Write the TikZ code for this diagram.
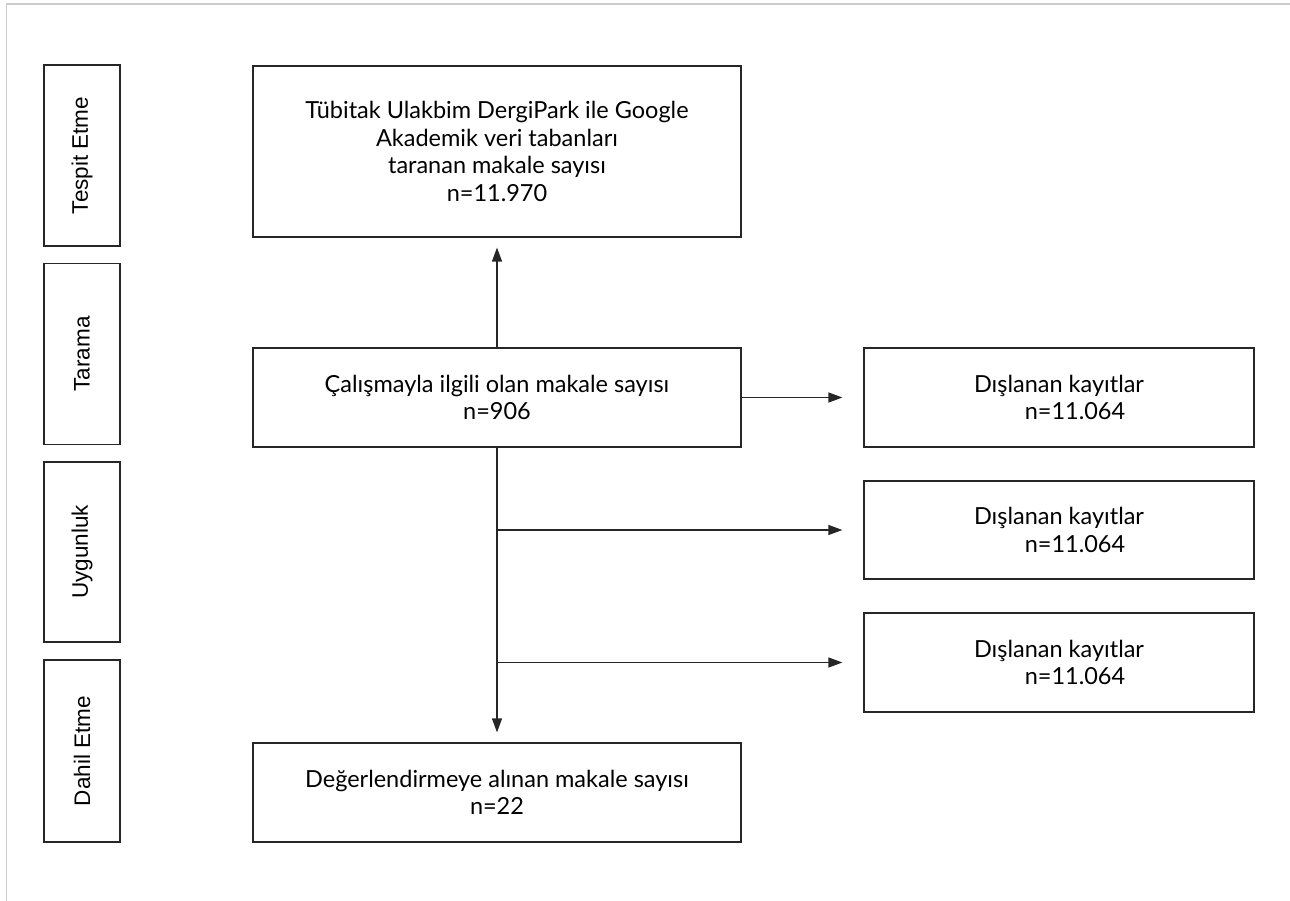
\documentclass[tikz,border=0pt]{standalone}
\usepackage{fontspec}
\setmainfont{Lato}
\newfontfamily\sidefont{Liberation Sans}
\usetikzlibrary{arrows.meta}
\begin{document}
\begin{tikzpicture}[x=1pt,y=-1pt,
  mainbox/.style={draw=black!85, line width=1.2pt, rectangle, align=center, inner sep=0pt,
     font=\fontsize{23.5}{27.5}\selectfont},
  sidebox/.style={draw=black!85, line width=1.2pt, rectangle, rotate=90, inner sep=0pt,
     minimum height=76pt, font=\sidefont\fontsize{22.5}{25}\selectfont},
  arr/.style={line width=1.2pt, draw=black!85, -{Triangle[length=14pt,width=10pt]}},
  ln/.style={line width=1.2pt, draw=black!85}]
\useasboundingbox (0,0) rectangle (1290,901);
\draw[black!20, line width=1.5pt] (6.5,901) coordinate (bl) -- (6.5,4) coordinate (tl) -- (1290,4) coordinate (tr);
% side boxes
\node[sidebox, minimum width=181pt] (s1) at (82,155.5) {Tespit Etme};
\node[sidebox, minimum width=181pt] (s2) at (82,354) {Tarama};
\node[sidebox, minimum width=180pt] (s3) at (82,552) {Uygunluk};
\node[sidebox, minimum width=182pt] (s4) at (82,751) {Dahil Etme};
% main boxes
\node[mainbox, minimum width=488pt, minimum height=171pt] (a) at (497,151.5)
  {Tübitak Ulakbim DergiPark ile Google\\Akademik veri tabanları\\taranan makale sayısı\\n=11.970};
\node[mainbox, minimum width=488pt, minimum height=99pt] (b) at (497,397.5)
  {Çalışmayla ilgili olan makale sayısı\\n=906};
\node[mainbox, minimum width=488pt, minimum height=99pt] (d) at (497,792.5)
  {Değerlendirmeye alınan makale sayısı\\n=22};
\node[mainbox, minimum width=390pt, minimum height=99pt] (c1) at (1059,397.5)
  {Dışlanan kayıtlar\\\hspace*{32pt}n=11.064};
\node[mainbox, minimum width=390pt, minimum height=98pt] (c2) at (1059,530)
  {Dışlanan kayıtlar\\\hspace*{32pt}n=11.064};
\node[mainbox, minimum width=390pt, minimum height=99pt] (c3) at (1059,662.5)
  {Dışlanan kayıtlar\\\hspace*{32pt}n=11.064};
% connectors
\draw[arr, shorten >=10pt] (b.north) -- (a.south);
\draw[arr, shorten >=10pt] (b.south) -- (d.north);
\draw[arr, shorten >=21pt] (b.east) -- (c1.west);
\coordinate (j2) at (b.south |- c2.west);
\coordinate (j3) at (b.south |- c3.west);
\draw[arr, shorten >=21pt] (j2) -- (c2.west);
\draw[arr, shorten >=21pt] (j3) -- (c3.west);
\end{tikzpicture}
\end{document}
